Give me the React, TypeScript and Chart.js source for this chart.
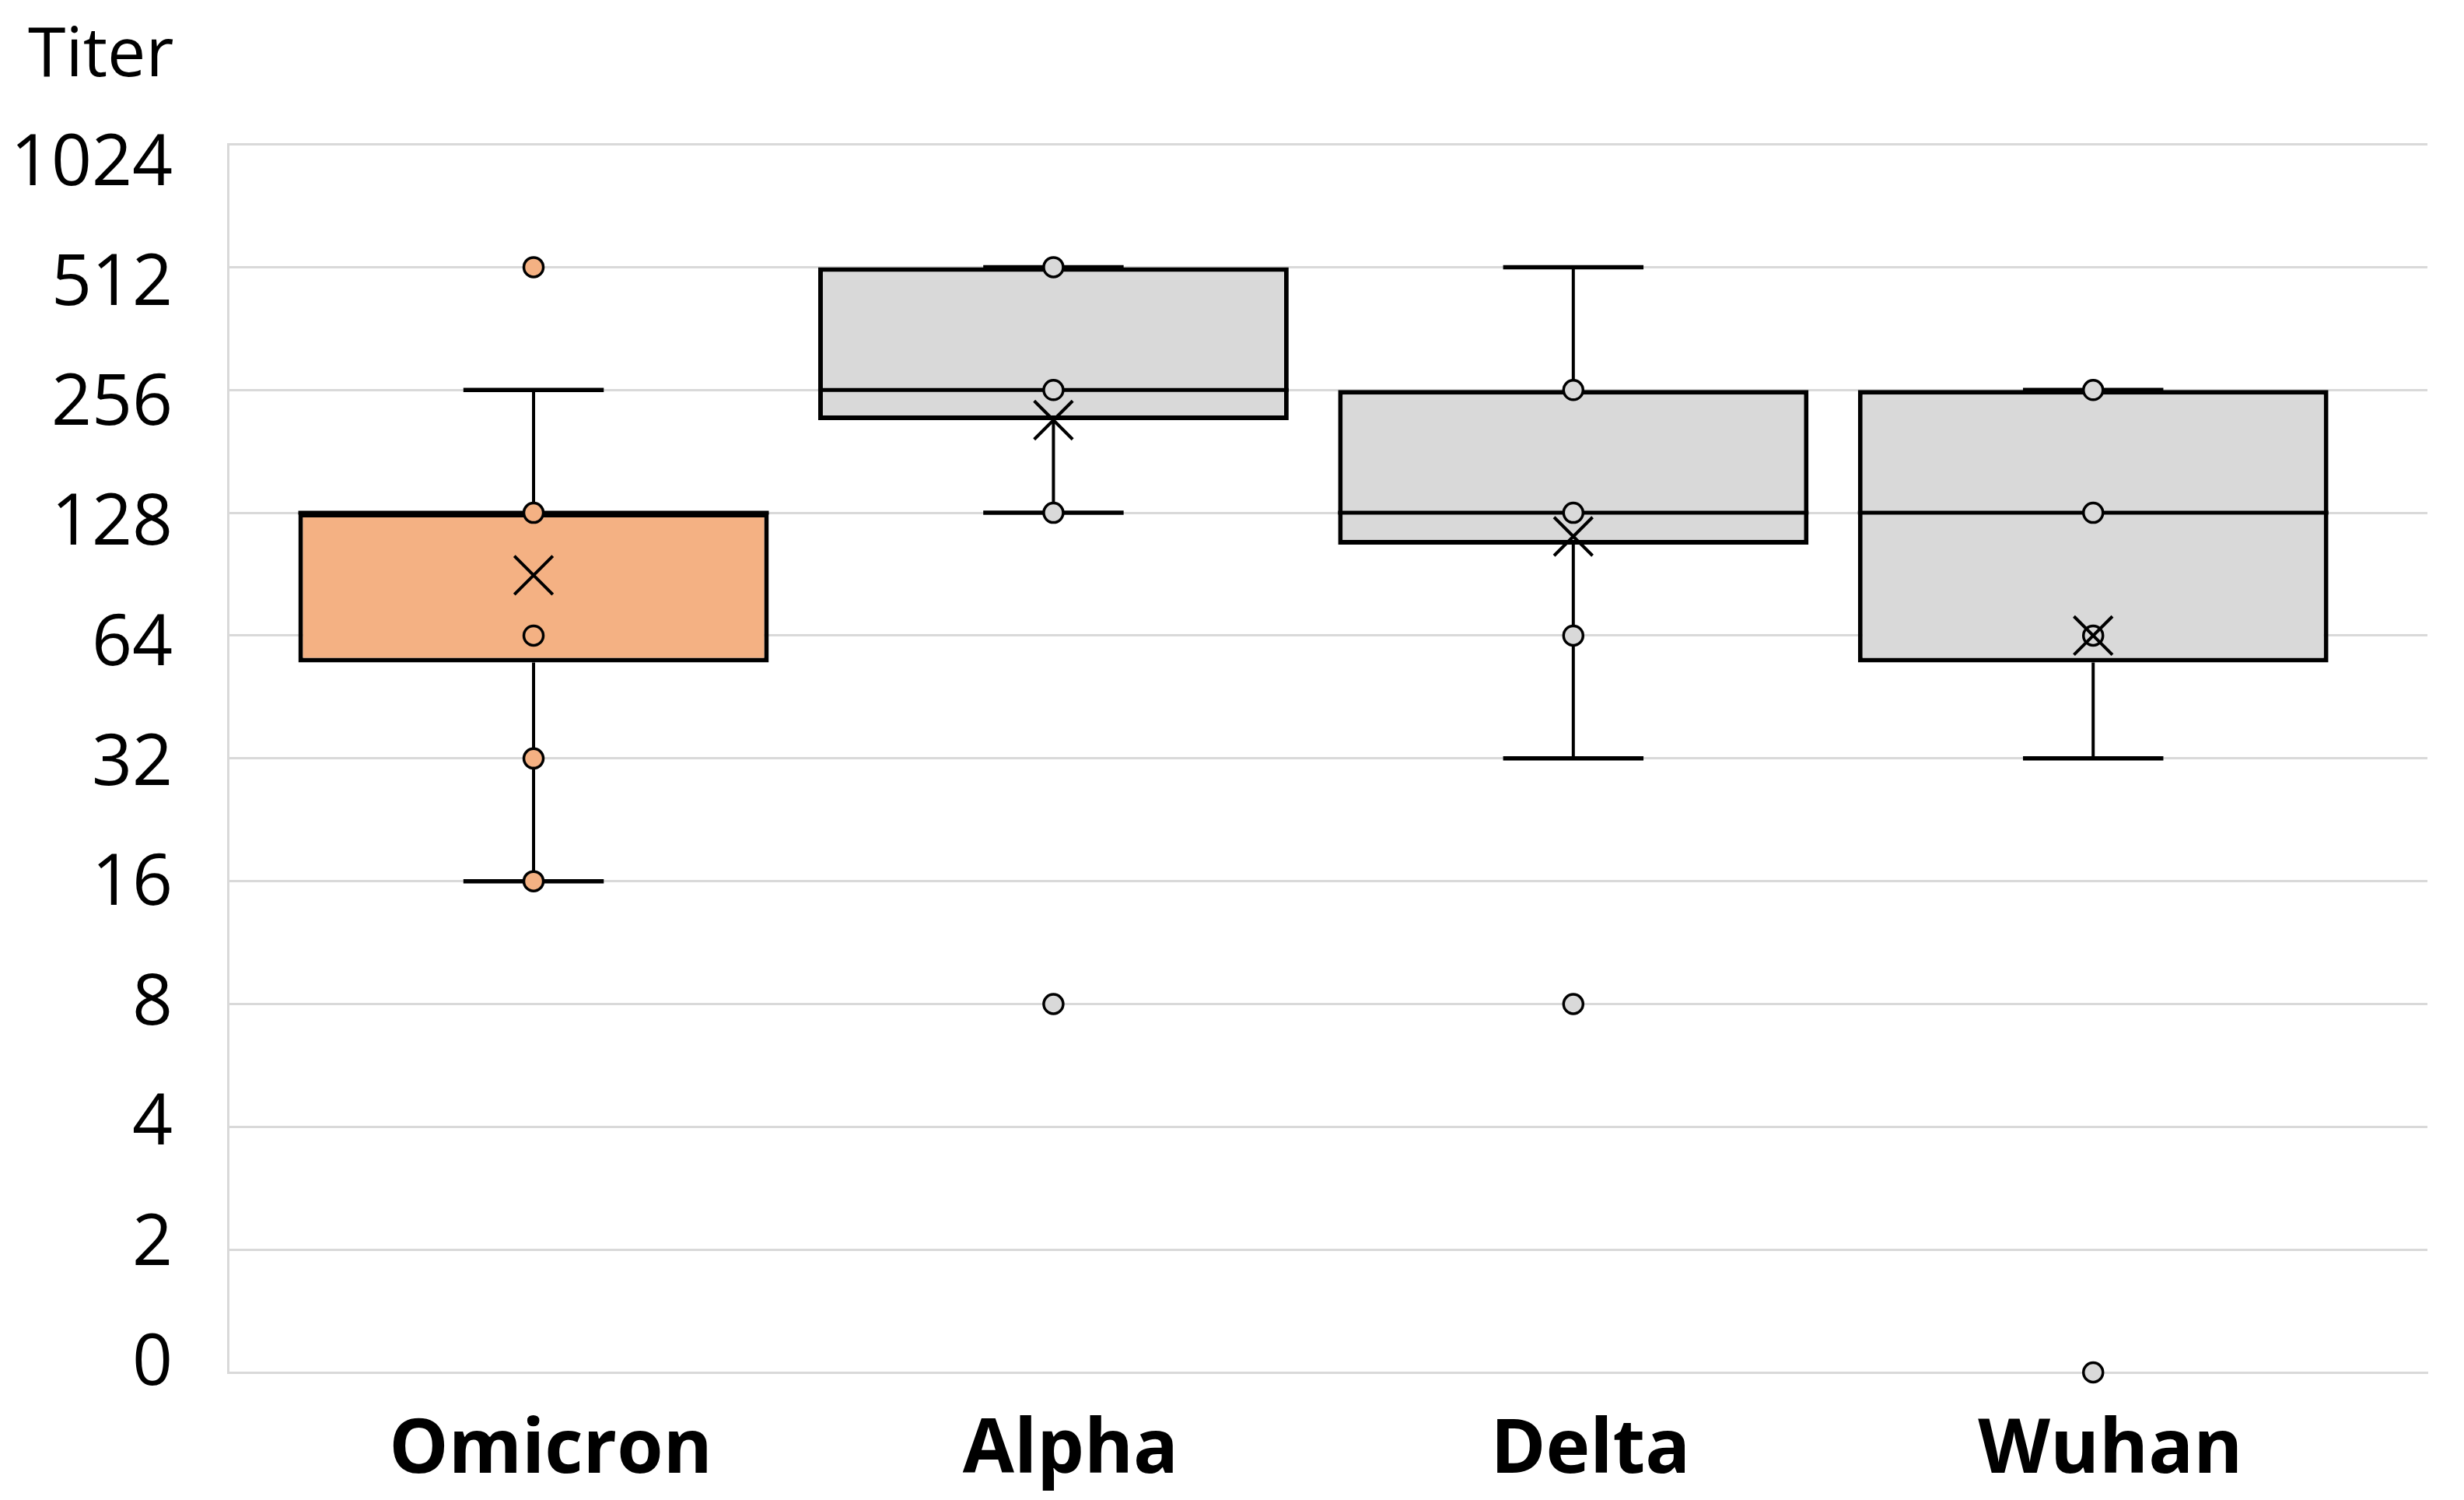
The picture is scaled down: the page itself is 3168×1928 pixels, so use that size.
import React, { useEffect, useRef } from "react";
import { Chart, registerables } from "chart.js";

Chart.register(...registerables);

// ---- data (titer values) ----
const categories = ["Omicron", "Alpha", "Delta", "Wuhan"];
const q1 = [55, 216, 107, 55];
const median = [128, 256, 128, 128];
const q3 = [128, 512, 256, 256];
const mean = [90, 216, 112, 64];
const whiskerLow = [16, 128, 32, 32];
const whiskerHigh = [256, 512, 512, 256];
const omicronPoints = [512, 128, 64, 32, 16];
const alphaPoints = [512, 256, 128, 8];
const deltaPoints = [256, 128, 64, 8];
const wuhanPoints = [256, 128, 64, 0];
const yTickLabels = ["0", "2", "4", "8", "16", "32", "64", "128", "256", "512", "1024"];

// ---- styles ----
const boxColors = ["#F4B183", "#D9D9D9", "#D9D9D9", "#D9D9D9"];
const FONT = "'Open Sans', 'Noto Sans', sans-serif";
const CAP_HALF = 0.135;

const pos = (t: number) => (t === 0 ? 0 : Math.log2(t));

const pointsByCat = [omicronPoints, alphaPoints, deltaPoints, wuhanPoints];

const whiskerPlugin = {
  id: "whiskers",
  afterDatasetDraw(chart: any, args: any) {
    if (args.index !== 0) return;
    const { ctx } = chart;
    const x = chart.scales.x;
    const y = chart.scales.y;
    const meta = chart.getDatasetMeta(0);
    ctx.save();
    ctx.strokeStyle = "#000";
    ctx.lineCap = "butt";
    categories.forEach((_, i) => {
      const cx = x.getPixelForValue(i);
      const yLo = y.getPixelForValue(pos(whiskerLow[i]));
      const yHi = y.getPixelForValue(pos(whiskerHigh[i]));
      const yQ1 = y.getPixelForValue(pos(q1[i]));
      const yQ3 = y.getPixelForValue(pos(q3[i]));
      const yMed = y.getPixelForValue(pos(median[i]));
      ctx.lineWidth = 4;
      ctx.beginPath();
      ctx.moveTo(cx, yLo);
      ctx.lineTo(cx, yQ1);
      ctx.moveTo(cx, yQ3);
      ctx.lineTo(cx, yHi);
      ctx.stroke();
      const cl = x.getPixelForValue(i - CAP_HALF);
      const cr = x.getPixelForValue(i + CAP_HALF);
      ctx.lineWidth = 5.5;
      ctx.beginPath();
      ctx.moveTo(cl, yLo);
      ctx.lineTo(cr, yLo);
      ctx.moveTo(cl, yHi);
      ctx.lineTo(cr, yHi);
      ctx.stroke();
      const bar = meta.data[i];
      if (bar) {
        const half = bar.width / 2;
        ctx.lineWidth = 5;
        ctx.beginPath();
        ctx.moveTo(bar.x - half, yMed);
        ctx.lineTo(bar.x + half, yMed);
        ctx.stroke();
      }
    });
    ctx.restore();
  },
};

const titleShiftPlugin = {
  id: "titleShift",
  afterLayout(chart: any) {
    if (chart.titleBlock) chart.titleBlock.left += 20;
  },
};

export default function App() {
  const ref = useRef<HTMLCanvasElement>(null);

  useEffect(() => {
    if (!ref.current) return;
    const pointData: any[] = [];
    const pointColors: string[] = [];
    pointsByCat.forEach((arr, i) => {
      arr.forEach((v) => {
        pointData.push({ x: i, y: pos(v) });
        pointColors.push(boxColors[i]);
      });
    });
    const chart = new Chart(ref.current, {
      type: "bar",
      data: {
        datasets: [
          {
            type: "bar",
            data: categories.map((_, i) => ({ x: i, y: [pos(q1[i]), pos(q3[i])] })) as any,
            backgroundColor: boxColors,
            borderColor: "#000",
            borderWidth: 6,
            borderSkipped: false,
            categoryPercentage: 1,
            barPercentage: 0.905,
            order: 3,
          } as any,
          {
            type: "scatter",
            data: pointData,
            backgroundColor: pointColors,
            borderColor: "#000",
            pointRadius: 12.5,
            pointBorderWidth: 3.5,
            pointStyle: "circle",
            clip: false as any,
            order: 2,
          } as any,
          {
            type: "scatter",
            data: categories.map((_, i) => ({ x: i, y: pos(mean[i]) })),
            borderColor: "#000",
            backgroundColor: "#000",
            pointStyle: "crossRot",
            pointRadius: 35,
            pointBorderWidth: 4,
            clip: false as any,
            order: 1,
          } as any,
        ],
      },
      options: {
        animation: false,
        responsive: true,
        maintainAspectRatio: false,
        events: [],
        layout: { padding: { left: 8, right: 32, top: 0, bottom: 0 } },
        plugins: {
          legend: { display: false },
          tooltip: { enabled: false },
          title: {
            display: true,
            text: "Titer",
            align: "start",
            color: "#000",
            font: { family: FONT, size: 88, weight: "normal" },
            padding: { top: 12, bottom: 60 },
          },
        },
        scales: {
          x: {
            type: "linear",
            min: -0.588,
            max: 3.643,
            offset: false,
            afterBuildTicks: (scale: any) => {
              scale.ticks = categories.map((_, i) => ({ value: i }));
            },
            afterFit: (scale: any) => {
              scale.height = 156;
            },
            grid: { display: false, drawTicks: false },
            border: { display: true, color: "#D9D9D9", width: 3 },
            ticks: {
              autoSkip: false,
              maxRotation: 0,
              padding: 44,
              labelOffset: 22,
              color: "#000",
              font: { family: FONT, size: 96, weight: "bold" },
              callback: (v: any) => categories[v as number] ?? "",
            },
          },
          y: {
            type: "linear",
            position: "left",
            weight: 0,
            min: 0,
            max: 10,
            afterFit: (scale: any) => {
              scale.width = 0;
            },
            grid: { color: "#D9D9D9", lineWidth: 3, drawTicks: false },
            border: { display: true, color: "#D9D9D9", width: 3 },
            ticks: { stepSize: 1, display: false },
          },
          yLabels: {
            type: "linear",
            position: "left",
            weight: 1,
            min: -0.0655,
            max: 10.17,
            afterBuildTicks: (scale: any) => {
              scale.ticks = yTickLabels.map((_, i) => ({ value: i }));
            },
            afterFit: (scale: any) => {
              scale.width = 277;
            },
            grid: { display: false, drawTicks: false },
            border: { display: false },
            ticks: {
              autoSkip: false,
              padding: 71,
              color: "#000",
              font: { family: FONT, size: 91, weight: "normal" },
              callback: (v: any) => yTickLabels[v as number] ?? "",
            },
          },
        },
      },
      plugins: [whiskerPlugin, titleShiftPlugin],
    });
    return () => chart.destroy();
  }, []);

  return (
    <div style={{ width: "3152px", height: "1912px", position: "relative" }}>
      <canvas ref={ref} />
    </div>
  );
}
